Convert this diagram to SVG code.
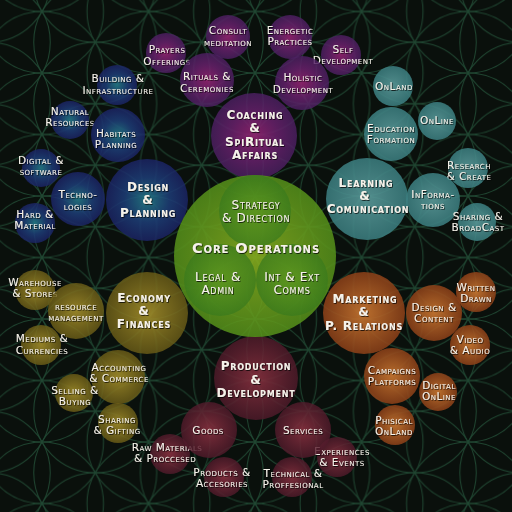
<svg xmlns="http://www.w3.org/2000/svg" width="512" height="512" viewBox="0 0 512 512">
<defs>
<style>
text{font-family:"DejaVu Sans","Liberation Sans",sans-serif;font-variant:small-caps;fill:#f6f2ea;text-anchor:middle;filter:url(#sh)}
.s{font-size:10.5px;letter-spacing:0.5px;font-weight:normal}
.m{font-size:12px;letter-spacing:0.8px;font-weight:bold}
.k{font-size:12px;letter-spacing:0.7px;font-weight:normal}
.c{font-size:14.5px;letter-spacing:0.9px;font-weight:bold}
.fl circle{fill:none;stroke:#1f4631;stroke-width:1}
</style>
<filter id="sh" x="-20%" y="-40%" width="140%" height="180%">
<feDropShadow dx="0.7" dy="0.8" stdDeviation="0.6" flood-color="#000" flood-opacity="0.9"/>
</filter>
<pattern id="fol" patternUnits="userSpaceOnUse" x="42" y="11.5" width="106.52" height="61.5">
<g class="fl">
<circle cx="0" cy="-61.5" r="61.5"/><circle cx="0" cy="0" r="61.5"/><circle cx="0" cy="61.5" r="61.5"/><circle cx="0" cy="123" r="61.5"/>
<circle cx="106.52" cy="-61.5" r="61.5"/><circle cx="106.52" cy="0" r="61.5"/><circle cx="106.52" cy="61.5" r="61.5"/><circle cx="106.52" cy="123" r="61.5"/>
<circle cx="-53.26" cy="-30.75" r="61.5"/><circle cx="-53.26" cy="30.75" r="61.5"/><circle cx="-53.26" cy="92.25" r="61.5"/>
<circle cx="53.26" cy="-30.75" r="61.5"/><circle cx="53.26" cy="30.75" r="61.5"/><circle cx="53.26" cy="92.25" r="61.5"/>
<circle cx="159.78" cy="-30.75" r="61.5"/><circle cx="159.78" cy="30.75" r="61.5"/><circle cx="159.78" cy="92.25" r="61.5"/>
</g>
</pattern>
<radialGradient id="gP"><stop offset="0" stop-color="#92226f" stop-opacity="0.9"/><stop offset="0.55" stop-color="#68206c" stop-opacity="0.85"/><stop offset="1" stop-color="#4c1f62" stop-opacity="0.82"/></radialGradient>
<radialGradient id="gB"><stop offset="0" stop-color="#237a86" stop-opacity="0.9"/><stop offset="0.55" stop-color="#1d3d78" stop-opacity="0.85"/><stop offset="1" stop-color="#1b2466" stop-opacity="0.82"/></radialGradient>
<radialGradient id="gT"><stop offset="0" stop-color="#5a9a9a" stop-opacity="0.9"/><stop offset="1" stop-color="#3b7e80" stop-opacity="0.86"/></radialGradient>
<radialGradient id="gO"><stop offset="0" stop-color="#a38e2a" stop-opacity="0.9"/><stop offset="1" stop-color="#6a5c17" stop-opacity="0.82"/></radialGradient>
<radialGradient id="gR"><stop offset="0" stop-color="#c87630" stop-opacity="0.92"/><stop offset="1" stop-color="#8c4018" stop-opacity="0.86"/></radialGradient>
<radialGradient id="gM"><stop offset="0" stop-color="#88303f" stop-opacity="0.9"/><stop offset="1" stop-color="#4f1a2a" stop-opacity="0.82"/></radialGradient>
<radialGradient id="gG"><stop offset="0" stop-color="#86ac1e" stop-opacity="0.9"/><stop offset="1" stop-color="#55901a" stop-opacity="0.86"/></radialGradient>
<radialGradient id="gG2"><stop offset="0" stop-color="#5a9820" stop-opacity="0.7"/><stop offset="1" stop-color="#3a7a1c" stop-opacity="0.75"/></radialGradient>
</defs>

<rect width="512" height="512" fill="#0a100c"/>
<rect width="512" height="512" fill="url(#fol)"/>

<g id="connectors"/>

<!-- Coaching & Spiritual Affairs -->
<g id="coaching-cluster">
<g id="consult"><circle cx="228" cy="37" r="22" fill="url(#gP)"/><text class="s" x="228" y="34">Consult</text><text class="s" x="228" y="46">meditation</text></g>
<g id="energetic"><circle cx="290" cy="37" r="22" fill="url(#gP)"/><text class="s" x="290" y="34">Energetic</text><text class="s" x="290" y="45">Practices</text></g>
<g id="prayers"><circle cx="166" cy="53" r="20" fill="url(#gP)"/><text class="s" x="167" y="53">Prayers</text><text class="s" x="167" y="65">Offerings</text></g>
<g id="self"><circle cx="341" cy="55" r="20" fill="url(#gP)"/><text class="s" x="343" y="53">Self</text><text class="s" x="343" y="64">Development</text></g>
<g id="rituals"><circle cx="207" cy="80" r="27" fill="url(#gP)"/><text class="s" x="207" y="80">Rituals &amp;</text><text class="s" x="207" y="92">Ceremonies</text></g>
<g id="holistic"><circle cx="302" cy="83" r="27" fill="url(#gP)"/><text class="s" x="303" y="81">Holistic</text><text class="s" x="303" y="93">Development</text></g>
<g id="coaching"><circle cx="254" cy="136" r="43" fill="url(#gP)"/><text class="m" x="255" y="119">Coaching</text><text class="m" x="255" y="132">&amp;</text><text class="m" x="255" y="146">SpiRitual</text><text class="m" x="255" y="159">Affairs</text></g>
</g>

<!-- Design & Planning -->
<g id="design-cluster">
<g id="building"><circle cx="117" cy="85" r="20" fill="url(#gB)"/><text class="s" x="118" y="82">Building &amp;</text><text class="s" x="118" y="94">Infrastructure</text></g>
<g id="natural"><circle cx="70" cy="120" r="19" fill="url(#gB)"/><text class="s" x="70" y="115">Natural</text><text class="s" x="70" y="126">Resources</text></g>
<g id="habitats"><circle cx="118" cy="135" r="27" fill="url(#gB)"/><text class="s" x="116" y="137">Habitats</text><text class="s" x="116" y="148">Planning</text></g>
<g id="digital"><circle cx="41" cy="168" r="19" fill="url(#gB)"/><text class="s" x="41" y="164">Digital &amp;</text><text class="s" x="41" y="175">software</text></g>
<g id="techno"><circle cx="78" cy="199" r="27" fill="url(#gB)"/><text class="s" x="78" y="198">Techno-</text><text class="s" x="78" y="210">logies</text></g>
<g id="hard"><circle cx="35" cy="223" r="20" fill="url(#gB)"/><text class="s" x="35" y="218">Hard &amp;</text><text class="s" x="35" y="229">Material</text></g>
<g id="design"><circle cx="147" cy="200" r="41" fill="url(#gB)"/><text class="m" x="148" y="191">Design</text><text class="m" x="148" y="204">&amp;</text><text class="m" x="148" y="217">Planning</text></g>
</g>

<!-- Learning & Comunication -->
<g id="learning-cluster">
<g id="onland"><circle cx="393" cy="86" r="20" fill="url(#gT)"/><text class="s" x="394" y="90">OnLand</text></g>
<g id="online"><circle cx="437" cy="121" r="19" fill="url(#gT)"/><text class="s" x="437" y="124">OnLine</text></g>
<g id="education"><circle cx="391" cy="134" r="27" fill="url(#gT)"/><text class="s" x="391" y="132">Education</text><text class="s" x="391" y="143">Formation</text></g>
<g id="research"><circle cx="468" cy="168" r="20" fill="url(#gT)"/><text class="s" x="469" y="169">Research</text><text class="s" x="469" y="180">&amp; Create</text></g>
<g id="informations"><circle cx="433" cy="200" r="27" fill="url(#gT)"/><text class="s" x="433" y="198">InForma-</text><text class="s" x="433" y="209">tions</text></g>
<g id="sharing-bc"><circle cx="477" cy="222" r="19" fill="url(#gT)"/><text class="s" x="478" y="220">Sharing &amp;</text><text class="s" x="478" y="231">BroadCast</text></g>
<g id="learning"><circle cx="367" cy="199" r="41" fill="url(#gT)"/><text class="m" x="366" y="187">Learning</text><text class="m" x="365" y="200">&amp;</text><text class="m" x="368" y="213">Comunication</text></g>
</g>

<!-- Economy & Finances -->
<g id="economy-cluster">
<g id="warehouse"><circle cx="35" cy="290" r="20" fill="url(#gO)"/><text class="s" x="35" y="286">Warehouse</text><text class="s" x="35" y="297">&amp; Stores</text></g>
<g id="resource"><circle cx="76" cy="311" r="28" fill="url(#gO)"/><text class="s" x="76" y="310">resource</text><text class="s" x="76" y="321">management</text></g>
<g id="mediums"><circle cx="41" cy="345" r="20" fill="url(#gO)"/><text class="s" x="42" y="342">Mediums &amp;</text><text class="s" x="42" y="354">Currencies</text></g>
<g id="accounting"><circle cx="118" cy="377" r="27" fill="url(#gO)"/><text class="s" x="119" y="371">Accounting</text><text class="s" x="119" y="382">&amp; Commerce</text></g>
<g id="selling"><circle cx="74" cy="393" r="19" fill="url(#gO)"/><text class="s" x="75" y="394">Selling &amp;</text><text class="s" x="75" y="405">Buying</text></g>
<g id="sharing-g"><circle cx="118" cy="423" r="20" fill="url(#gO)"/><text class="s" x="117" y="423">Sharing</text><text class="s" x="117" y="434">&amp; Gifting</text></g>
<g id="economy"><circle cx="147" cy="313" r="41" fill="url(#gO)"/><text class="m" x="144" y="302">Economy</text><text class="m" x="144" y="315">&amp;</text><text class="m" x="144" y="328">Finances</text></g>
</g>

<!-- Marketing & P. Relations -->
<g id="marketing-cluster">
<g id="written"><circle cx="476" cy="292" r="20" fill="url(#gR)"/><text class="s" x="476" y="291">Written</text><text class="s" x="476" y="302">Drawn</text></g>
<g id="design-content"><circle cx="434" cy="313" r="28" fill="url(#gR)"/><text class="s" x="434" y="311">Design &amp;</text><text class="s" x="434" y="322">Content</text></g>
<g id="video"><circle cx="470" cy="345" r="20" fill="url(#gR)"/><text class="s" x="470" y="343">Video</text><text class="s" x="470" y="354">&amp; Audio</text></g>
<g id="campaigns"><circle cx="392" cy="376" r="28" fill="url(#gR)"/><text class="s" x="392" y="374">Campaigns</text><text class="s" x="392" y="385">Platforms</text></g>
<g id="digital-online"><circle cx="438" cy="392" r="19" fill="url(#gR)"/><text class="s" x="439" y="389">Digital</text><text class="s" x="439" y="400">OnLine</text></g>
<g id="phisical"><circle cx="395" cy="425" r="20" fill="url(#gR)"/><text class="s" x="394" y="424">Phisical</text><text class="s" x="394" y="435">OnLand</text></g>
<g id="marketing"><circle cx="364" cy="313" r="41" fill="url(#gR)"/><text class="m" x="365" y="303">Marketing</text><text class="m" x="364" y="316">&amp;</text><text class="m" x="364" y="330">P. Relations</text></g>
</g>

<!-- Production & Development -->
<g id="production-cluster">
<g id="raw"><circle cx="170" cy="454" r="20" fill="url(#gM)"/><text class="s" x="167" y="451">Raw Materials</text><text class="s" x="165" y="462">&amp; Proccesed</text></g>
<g id="products"><circle cx="224" cy="477" r="20" fill="url(#gM)"/><text class="s" x="222" y="476">Products &amp;</text><text class="s" x="222" y="487">Accesories</text></g>
<g id="technical"><circle cx="292" cy="477" r="20" fill="url(#gM)"/><text class="s" x="293" y="477">Technical &amp;</text><text class="s" x="293" y="488">Proffesional</text></g>
<g id="experiences"><circle cx="337" cy="457" r="20" fill="url(#gM)"/><text class="s" x="342" y="455">Experiences</text><text class="s" x="342" y="466">&amp; Events</text></g>
<g id="goods"><circle cx="209" cy="430" r="28" fill="url(#gM)"/><text class="s" x="208" y="434">Goods</text></g>
<g id="services"><circle cx="303" cy="430" r="28" fill="url(#gM)"/><text class="s" x="303" y="434">Services</text></g>
<g id="production"><circle cx="256" cy="378" r="42" fill="url(#gM)"/><text class="m" x="256" y="370">Production</text><text class="m" x="256" y="384">&amp;</text><text class="m" x="256" y="397">Development</text></g>
</g>

<!-- Core Operations -->
<g id="core-cluster">
<g id="core"><circle cx="255" cy="256" r="81" fill="url(#gG)"/></g>
<g id="strategy"><circle cx="255" cy="211" r="36" fill="url(#gG2)"/><text class="k" x="256" y="209">Strategy</text><text class="k" x="256" y="222">&amp; Direction</text></g>
<g id="legal"><circle cx="220" cy="280" r="36" fill="url(#gG2)"/><text class="k" x="218" y="281">Legal &amp;</text><text class="k" x="218" y="294">Admin</text></g>
<g id="intext"><circle cx="292" cy="280" r="36" fill="url(#gG2)"/><text class="k" x="292" y="281">Int &amp; Ext</text><text class="k" x="292" y="294">Comms</text></g>
<text id="core-label" class="c" x="256" y="253">Core Operations</text>
</g>
</svg>
